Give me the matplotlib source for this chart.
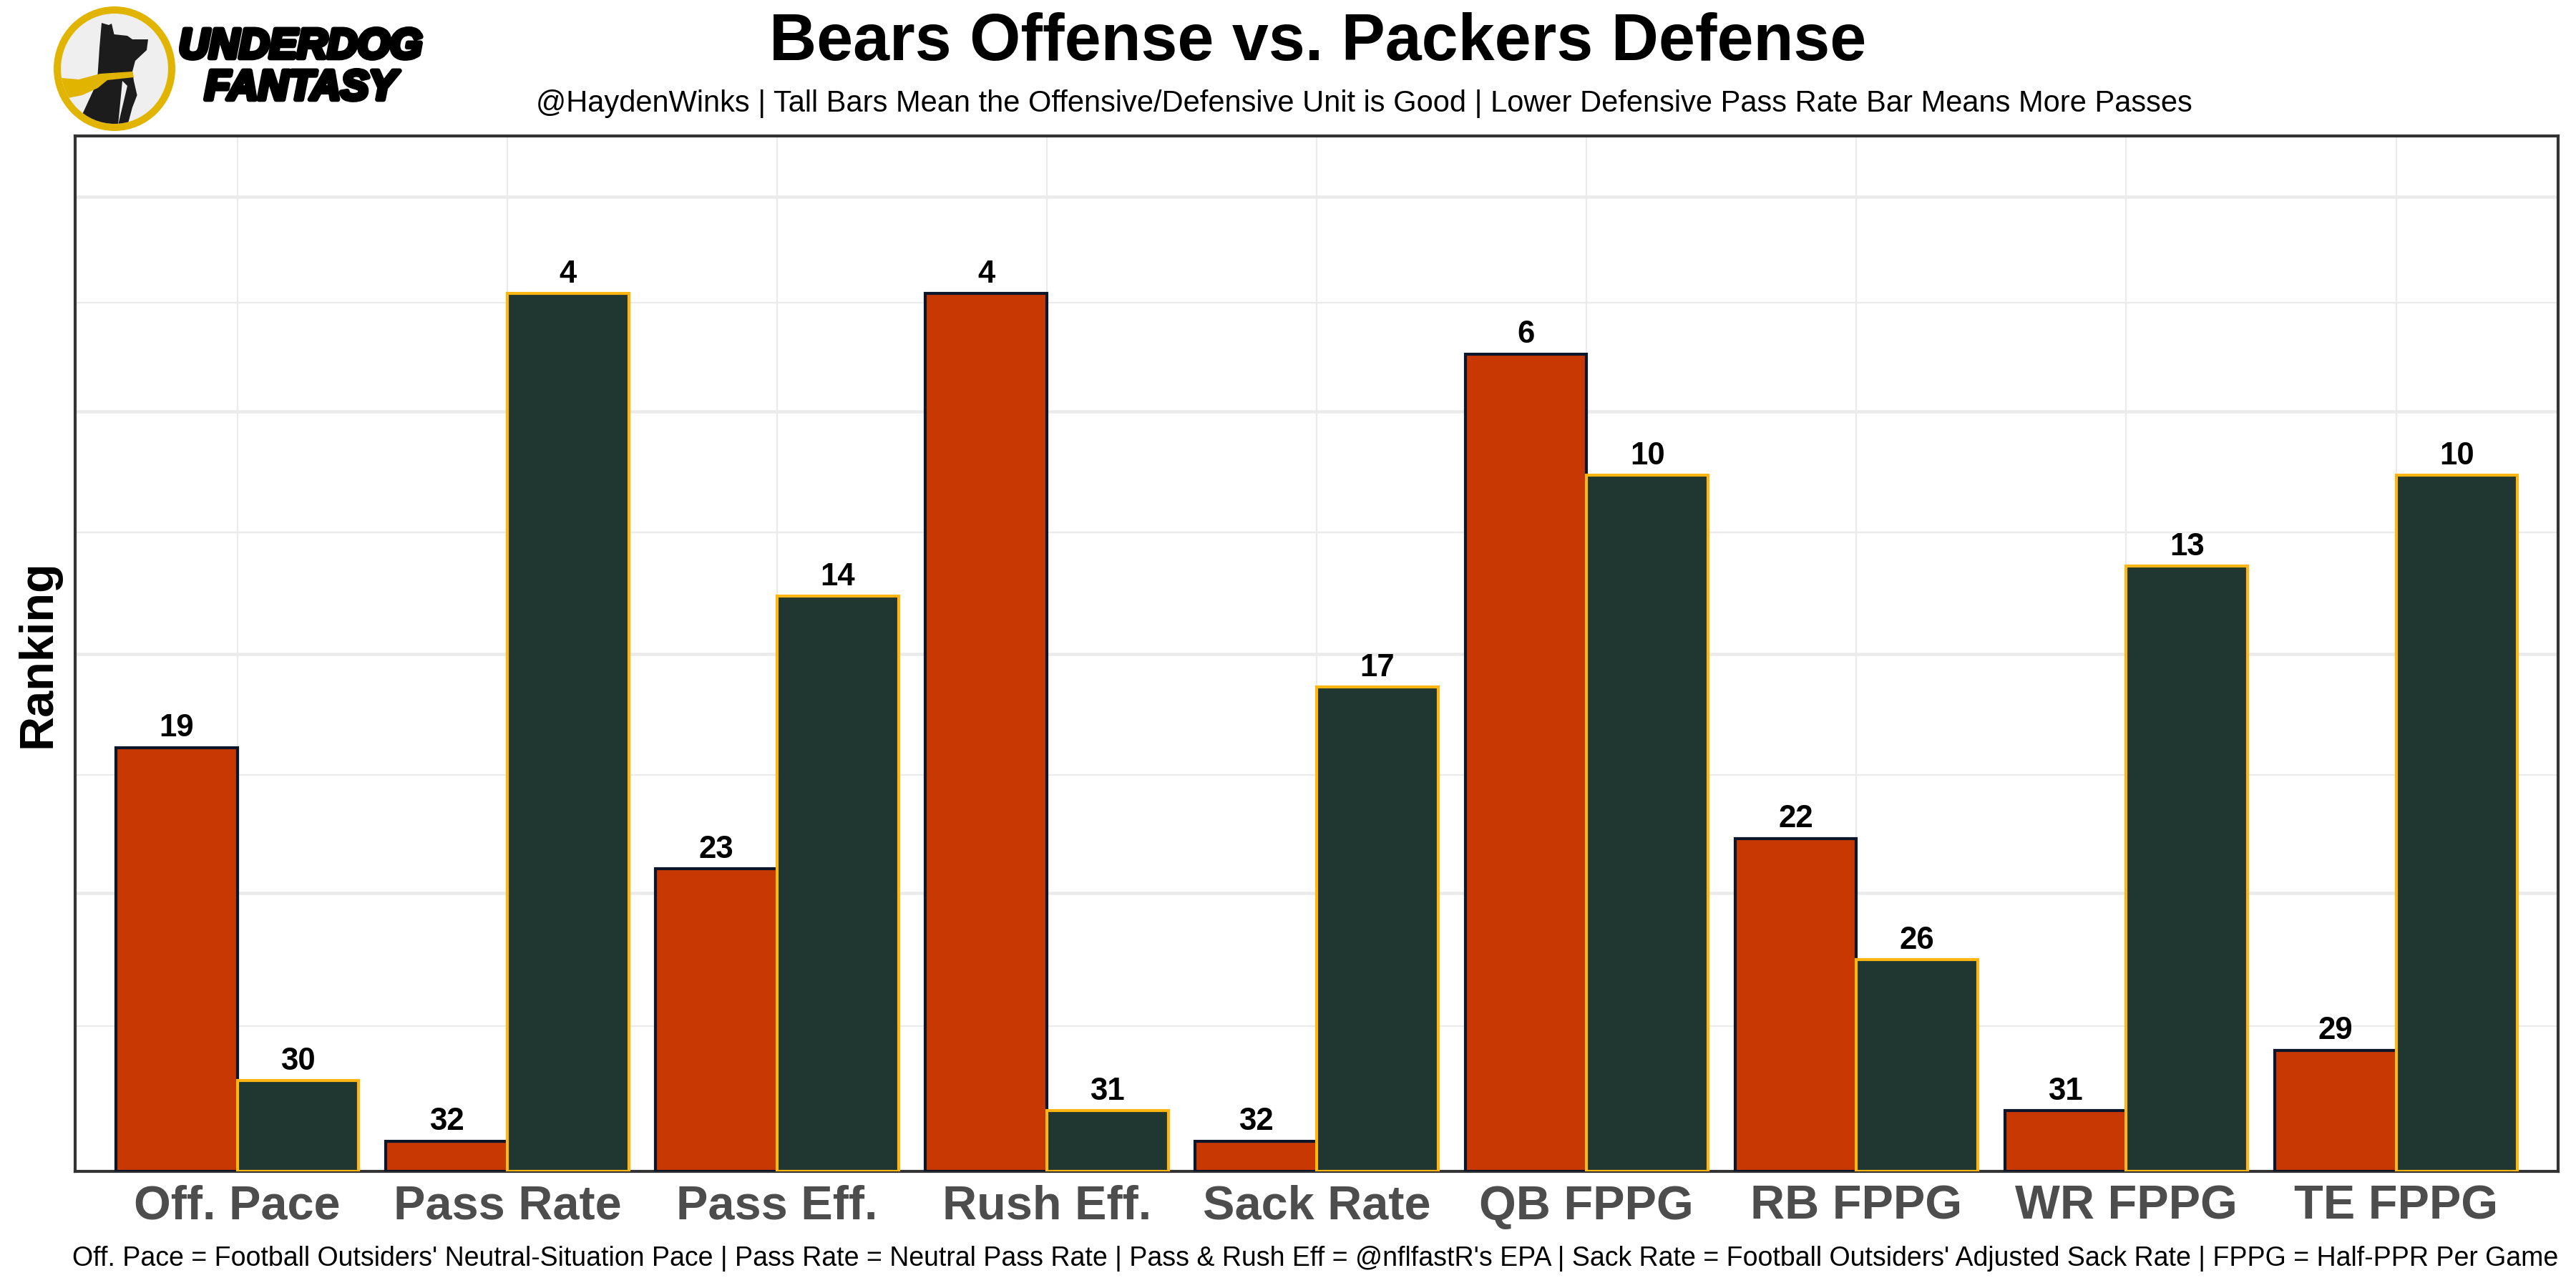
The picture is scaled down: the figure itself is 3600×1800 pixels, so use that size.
import matplotlib
matplotlib.use("Agg")
import matplotlib.pyplot as plt
import matplotlib.patheffects as pe
import numpy as np
from matplotlib.patches import Ellipse, Polygon

plt.rcParams['font.family'] = ['Liberation Sans', 'DejaVu Sans']

categories = ["Off. Pace", "Pass Rate", "Pass Eff.", "Rush Eff.", "Sack Rate",
              "QB FPPG", "RB FPPG", "WR FPPG", "TE FPPG"]
bears_rank = [19, 32, 23, 4, 32, 6, 22, 31, 29]
packers_rank = [30, 4, 14, 31, 17, 10, 26, 13, 10]

# bar height: 33 - rank, so rank 1 is tallest
bears_h = [33 - r for r in bears_rank]
packers_h = [33 - r for r in packers_rank]

# gridline positions
grid_major = [9.2, 17.1, 25.1, 32.2]
grid_minor = [4.8, 13.1, 21.1, 28.7]

title = "Bears Offense vs. Packers Defense"
subtitle = ("@HaydenWinks | Tall Bars Mean the Offensive/Defensive Unit is Good | "
            "Lower Defensive Pass Rate Bar Means More Passes")
caption = ("Off. Pace = Football Outsiders' Neutral-Situation Pace | Pass Rate = Neutral Pass Rate | "
           "Pass & Rush Eff = @nflfastR's EPA | Sack Rate = Football Outsiders' Adjusted Sack Rate | "
           "FPPG = Half-PPR Per Game")

fig = plt.figure(figsize=(12, 6), dpi=300)
ax = fig.add_axes([0.0293, 0.0906, 0.9637, 0.8038])

x = np.arange(len(categories))
w = 0.45
b1 = ax.bar(x - w / 2, bears_h, w, color="#C83803", edgecolor="#0B162A", linewidth=1.0, zorder=3)
b2 = ax.bar(x + w / 2, packers_h, w, color="#203731", edgecolor="#FFB612", linewidth=1.0, zorder=3)

for bars, ranks in ((b1, bears_rank), (b2, packers_rank)):
    for rect, r in zip(bars, ranks):
        ax.annotate(str(r), (rect.get_x() + rect.get_width() / 2, rect.get_height()),
                    xytext=(0, 1.5), textcoords="offset points", ha="center", va="bottom",
                    fontsize=10.5, fontweight="bold", color="black", zorder=4)

ax.set_xlim(-0.6, len(categories) - 0.4)
ax.set_ylim(0, 34.2)
ax.set_xticks(x)
ax.set_xticklabels(categories, fontsize=16, fontweight="bold", color="#4D4D4D")
ax.set_yticks(grid_major)
ax.set_yticks(grid_minor, minor=True)
ax.tick_params(axis="y", which="both", length=0, labelleft=False)
ax.tick_params(axis="x", length=0, pad=4.5)
ax.grid(which="major", axis="y", color="#EBEBEB", linewidth=1.1, zorder=0)
ax.grid(which="minor", axis="y", color="#EBEBEB", linewidth=0.55, zorder=0)
ax.grid(which="major", axis="x", color="#EBEBEB", linewidth=0.55, zorder=0)
ax.set_axisbelow(True)
for s in ax.spines.values():
    s.set_color("#333333")
    s.set_linewidth(1.0)
ax.set_ylabel("Ranking", fontsize=16, fontweight="bold", labelpad=5)

fig.text(1842 / 3600, 1 - 60 / 1800, title, ha="center", va="center", fontsize=22, fontweight="bold")
fig.text(1906 / 3600, 1 - 145 / 1800, subtitle, ha="center", va="center", fontsize=10)
fig.text(0.993, 1 - 1759 / 1800, caption, ha="right", va="center", fontsize=9)

# logo overlay in pixel coordinates
lax = fig.add_axes([0, 0, 1, 1], zorder=5)
lax.set_xlim(0, 3600)
lax.set_ylim(1800, 0)
lax.axis("off")
lax.patch.set_alpha(0)

ring = Ellipse((160, 96), 160, 164, facecolor="#EFEFEF", edgecolor="#E0B400", linewidth=2.4)
lax.add_patch(ring)
inner = Ellipse((160, 96), 150, 154, facecolor="none", edgecolor="none")
lax.add_patch(inner)
dog = Polygon([(142, 32), (152, 35), (156, 33), (159.5, 48), (178, 50), (185, 55), (207, 55),
               (205, 70), (189, 85), (185, 100), (187, 113), (191.6, 133), (185, 150),
               (178, 176), (141, 180), (108, 175), (132, 123), (136.6, 103), (139, 67)],
              closed=True, facecolor="#1C1C1C", edgecolor="none")
lax.add_patch(dog)
dog.set_clip_path(inner)
scarf = Polygon([(75, 108), (110, 111), (140, 103), (185, 100), (187, 108), (150, 112),
                 (136.6, 123), (115, 133), (80, 140)],
                closed=True, facecolor="#E0B400", edgecolor="none")
lax.add_patch(scarf)
scarf.set_clip_path(inner)
bolt = Polygon([(171, 113), (178, 120), (165, 175)], closed=True, facecolor="#EFEFEF", edgecolor="none")
lax.add_patch(bolt)
heavy = [pe.withStroke(linewidth=1.6, foreground="black")]
lax.text(420, 66, "UNDERDOG", ha="center", va="center", fontsize=14, fontweight="bold",
         style="italic", color="black", path_effects=heavy)
lax.text(420, 124, "FANTASY", ha="center", va="center", fontsize=14, fontweight="bold",
         style="italic", color="black", path_effects=heavy)

fig.savefig("out.png", dpi=300)
